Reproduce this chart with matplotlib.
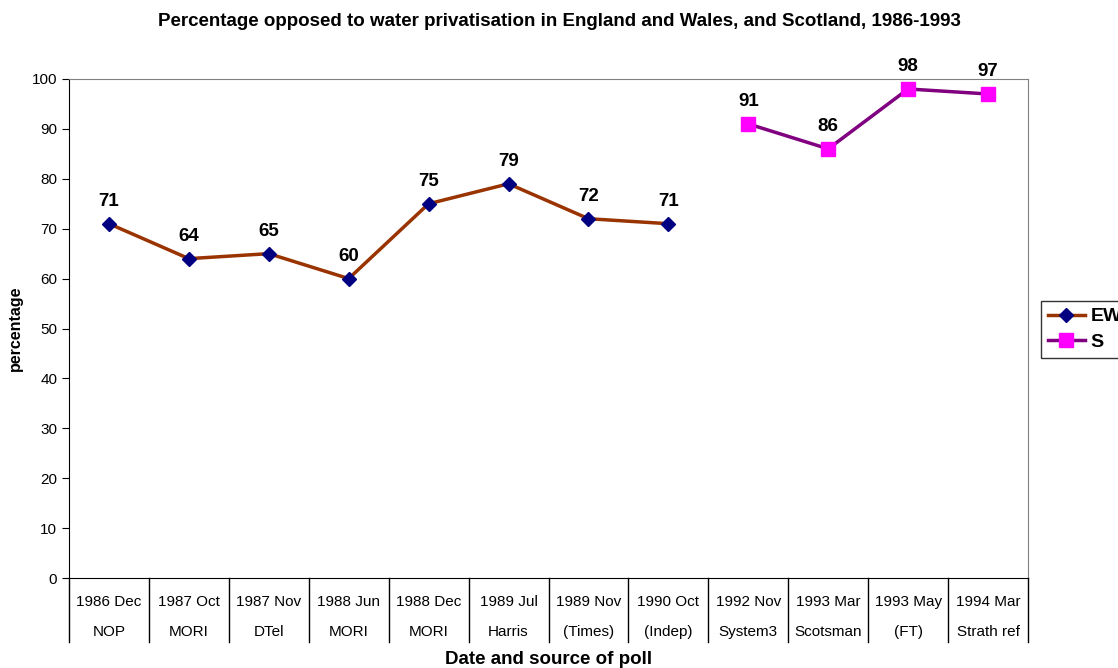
import numpy as np
import matplotlib.pyplot as plt

plt.rcParams['font.family'] = ['Liberation Sans', 'DejaVu Sans']

dates = ["1986 Dec", "1987 Oct", "1987 Nov", "1988 Jun", "1988 Dec", "1989 Jul",
         "1989 Nov", "1990 Oct", "1992 Nov", "1993 Mar", "1993 May", "1994 Mar"]
sources = ["NOP", "MORI", "DTel", "MORI", "MORI", "Harris",
           "(Times)", "(Indep)", "System3", "Scotsman", "(FT)", "Strath ref"]
ew_values = [71, 64, 65, 60, 75, 79, 72, 71]
s_values = [91, 86, 98, 97]

fig = plt.figure(figsize=(11.18, 6.68), dpi=100)
ax = fig.add_axes([69 / 1118, 90 / 668, 959 / 1118, 499 / 668])

x_ew = np.arange(len(ew_values))
x_s = np.arange(len(ew_values), len(ew_values) + len(s_values))

ax.plot(x_ew, ew_values, color="#993300", lw=2.5, marker="D", ms=7.5,
        markerfacecolor="#000080", markeredgecolor="#000080", label="EW", zorder=3)
ax.plot(x_s, s_values, color="#800080", lw=2.5, marker="s", ms=10,
        markerfacecolor="#FF00FF", markeredgecolor="#FF00FF", label="S", zorder=3)

for xs, vals in [(x_ew, ew_values), (x_s, s_values)]:
    for x, v in zip(xs, vals):
        ax.annotate(str(v), (x, v), xytext=(0, 10), textcoords="offset points",
                    ha="center", va="bottom", fontsize=13.5, fontweight="bold")

n = len(dates)
ax.set_xlim(-0.5, n - 0.5)
ax.set_ylim(0, 100)
ax.set_yticks(range(0, 101, 10))
ax.tick_params(axis="y", labelsize=11, length=5, direction="out")
ax.set_xticks([])

for side in ["top", "right"]:
    ax.spines[side].set_color("#808080")
ax.spines["left"].set_color("black")
ax.spines["bottom"].set_color("black")

# two-level category labels with separators
for i in range(n + 1):
    ax.plot([i - 0.5, i - 0.5], [0, -12.8], color="black", lw=1, clip_on=False)
for i in range(n):
    ax.text(i, -4.8, dates[i], ha="center", va="center", fontsize=11)
    ax.text(i, -10.8, sources[i], ha="center", va="center", fontsize=11)

fig.text(0.5, 1 - 22 / 668, "Percentage opposed to water privatisation in England and Wales, and Scotland, 1986-1993",
         ha="center", va="center", fontsize=13.5, fontweight="bold")
fig.text(549 / 1118, 1 - 660 / 668, "Date and source of poll", ha="center", va="center",
         fontsize=13.5, fontweight="bold")
fig.text(15 / 1118, 1 - 328 / 668, "percentage", ha="center", va="center",
         rotation=90, fontsize=11.5, fontweight="bold")

leg = fig.legend(loc="upper left", bbox_to_anchor=(1041 / 1118, 1 - 301 / 668),
                 frameon=True, fancybox=False, edgecolor="black",
                 prop={"weight": "bold", "size": 14}, handlelength=1.9,
                 borderaxespad=0, borderpad=0.35, labelspacing=0.4, handletextpad=0.3)
leg.get_frame().set_linewidth(1)

fig.savefig("out.png", dpi=100)
